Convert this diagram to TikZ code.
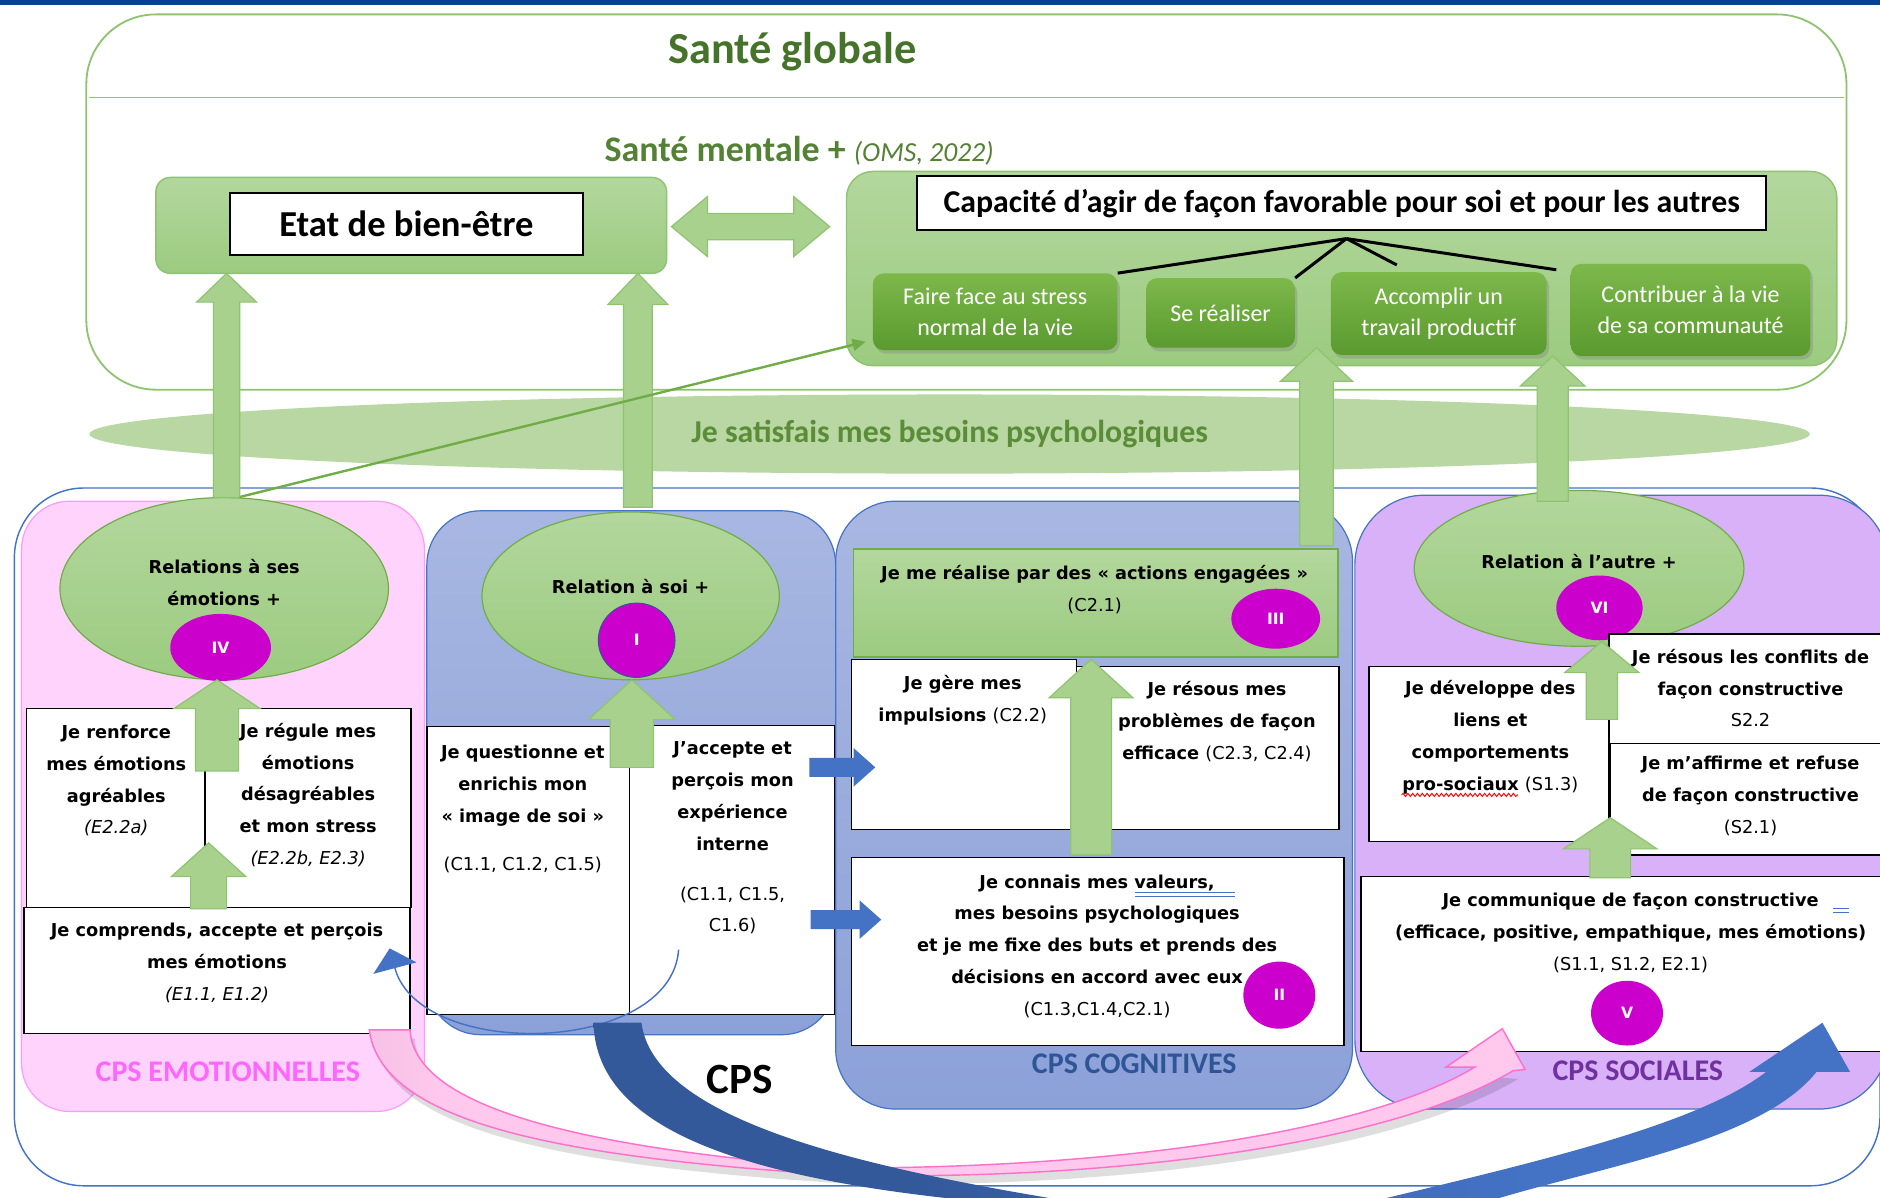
\documentclass[tikz,border=0pt]{standalone}
\usepackage{fontspec}
\setmainfont{DejaVu Sans}
\newfontfamily\carl{Carlito}
\usetikzlibrary{shapes.geometric,arrows.meta,shadows,decorations.pathmorphing}
\definecolor{topblue}{HTML}{0B3F8F}
\definecolor{sgline}{HTML}{8EC36F}
\definecolor{lgreen}{HTML}{A9D18E}
\definecolor{lgreenT}{HTML}{B3D79D}
\definecolor{lgreenB}{HTML}{9CCB80}
\definecolor{ogreen}{HTML}{70AD47}
\definecolor{dgreenT}{HTML}{7DB84B}
\definecolor{dgreenB}{HTML}{5A9A2E}
\definecolor{titlegreen}{HTML}{46732A}
\definecolor{midgreen}{HTML}{548235}
\definecolor{besoin}{HTML}{B8D7A3}
\definecolor{besointext}{HTML}{5B8C37}
\definecolor{magen}{HTML}{CC00CC}
\definecolor{cpsblue}{HTML}{4472C4}
\definecolor{darkblue}{HTML}{2F5597}
\definecolor{bluT}{HTML}{A8B7E2}
\definecolor{bluB}{HTML}{8CA1D8}
\definecolor{pinkfill}{HTML}{FFD3FC}
\definecolor{pinkline}{HTML}{FF99FF}
\definecolor{pinklabel}{HTML}{FF66FF}
\definecolor{purp}{HTML}{D8B1F9}
\definecolor{purplabel}{HTML}{7030A0}
\definecolor{mauve}{HTML}{C9A0C0}
\definecolor{pinkb}{HTML}{FFC8EC}
\definecolor{pinkedge}{HTML}{FF6FCC}
\definecolor{bandblueA}{HTML}{34599B}
\definecolor{bandblueB}{HTML}{4472C4}
\pgfdeclarehorizontalshading{pinkband}{100bp}{color(0bp)=(mauve); color(10bp)=(mauve); color(28bp)=(pinkb); color(100bp)=(pinkb)}
\pgfdeclarehorizontalshading{blueband}{100bp}{color(0bp)=(bandblueA); color(38bp)=(bandblueA); color(62bp)=(bandblueB); color(100bp)=(bandblueB)}
\newcommand{\uparr}[7][]{\filldraw[#1] (#2,#3) -- ({#2+#6},{#3+#7}) -- ({#2+#5},{#3+#7}) -- ({#2+#5},#4) -- ({#2-#5},#4) -- ({#2-#5},{#3+#7}) -- ({#2-#6},{#3+#7}) -- cycle;}
\newcommand{\rtarr}[7][]{\filldraw[#1] (#3,#4) -- ({#3-#7},{#4-#6}) -- ({#3-#7},{#4-#5}) -- (#2,{#4-#5}) -- (#2,{#4+#5}) -- ({#3-#7},{#4+#5}) -- ({#3-#7},{#4+#6}) -- cycle;}
\begin{document}
\begin{tikzpicture}[x=1pt,y=-1pt,
  body/.style={font=\fontsize{14.8}{26.5}\selectfont\bfseries, align=center, inner sep=0pt},
  wbox/.style={draw=black, line width=1.3pt, fill=white, inner sep=0pt},
  magc/.style={ellipse, fill=magen, text=white, font=\fontsize{13}{13}\selectfont\bfseries, inner sep=0pt},
  gell/.style={ellipse, draw=ogreen, line width=1pt, top color=lgreenT, bottom color=lgreenB, inner sep=0pt},
  garr/.style={fill=lgreen, draw=sgline, line width=1pt},
  barr/.style={fill=cpsblue, draw=none},
  gbox/.style={rounded corners=9pt, top color=dgreenT, bottom color=dgreenB, draw=none, text=white, font=\carl\fontsize{20}{26}\selectfont, align=center, inner sep=0pt, drop shadow={opacity=0.35, shadow xshift=2pt, shadow yshift=-3pt}},
  lgbox/.style={draw=sgline, line width=1.2pt, top color=lgreenT, bottom color=lgreenB, inner sep=0pt},
  titlebox/.style={draw=black, line width=1.5pt, fill=white, inner sep=0pt},
  panelblue/.style={draw=cpsblue, line width=1pt, top color=bluT, bottom color=bluB, inner sep=0pt},
  cpslabel/.style={font=\carl\bfseries\fontsize{25}{25}\selectfont, inner sep=0pt},
]
\useasboundingbox (0,0) rectangle (1568,999);
\clip (0,0) rectangle (1568,999);
\fill[white] (0,0) rectangle (1568,999);
\fill[topblue] (0,0) rectangle (1568,4.5);

% ---------- Santé globale ----------
\draw[sgline, line width=1.5pt, rounded corners=58pt] (72,12) rectangle (1540,325);
\coordinate (hl1) at (74,81);
\coordinate (hl2) at (1538,81);
\draw[sgline, line width=1pt] (hl1) -- (hl2);
\node[font=\carl\bfseries\fontsize{37}{37}\selectfont, text=titlegreen] (sg) at (661,43) {Santé globale};
\node[anchor=base west, text=midgreen, inner sep=0pt] (sm) at (504,135) {\carl\bfseries\fontsize{30}{30}\selectfont Santé mentale + {\mdseries\itshape\fontsize{23}{23}\selectfont (OMS, 2022)}};

% Etat de bien-être
\node[lgbox, rounded corners=12pt, minimum width=426pt, minimum height=80pt] (etat) at (343,188) {};
\node[titlebox, minimum width=294pt, minimum height=52pt, font=\carl\bfseries\fontsize{30.5}{30.5}\selectfont] (etatt) at (339,187) {Etat de bien-être};

% double arrow
\filldraw[garr] (560,189) -- (590,164) -- (590,178) -- (662,178) -- (662,164) -- (692,189) -- (662,214) -- (662,200) -- (590,200) -- (590,214) -- cycle;

% Capacité
\node[lgbox, rounded corners=22pt, minimum width=826pt, minimum height=162pt] (cap) at (1119,224) {};
\node[titlebox, minimum width=708pt, minimum height=45pt, font=\carl\bfseries\fontsize{26.5}{26.5}\selectfont] (capt) at (1119,169.5) {Capacité d’agir de façon favorable pour soi et pour les autres};

\node[gbox, minimum width=204pt, minimum height=64pt] (g1) at (830,260) {Faire face au stress\\normal de la vie};
\node[gbox, minimum width=124pt, minimum height=58pt] (g2) at (1018,261) {Se réaliser};
\node[gbox, minimum width=180pt, minimum height=69pt] (g3) at (1200,261.5) {Accomplir un\\travail productif};
\node[gbox, minimum width=200pt, minimum height=77pt] (g4) at (1410,258.5) {Contribuer à la vie\\de sa communauté};

\coordinate (apex) at (1123,199);
\coordinate (lnend) at (1165,221);
\coordinate (lnend4) at (1298,225);
\draw[black, line width=2.5pt] (apex) -- (g1.north east);
\draw[black, line width=2.5pt] (apex) -- (g2.north east);
\draw[black, line width=2.5pt] (apex) -- (lnend);
\draw[black, line width=2.5pt] (apex) -- (lnend4);

% ---------- besoins ----------
\node[ellipse, fill=besoin, minimum width=1435pt, minimum height=66pt, inner sep=0pt] (bes) at (792,362) {};
\node[font=\carl\bfseries\fontsize{26.5}{26.5}\selectfont, text=besointext] (best) at (792,362) {Je satisfais mes besoins psychologiques};

% ---------- CPS frame ----------
\draw[cpsblue, line width=1.2pt, rounded corners=58pt] (12,407) rectangle (1568,989);

% panels
\node[draw=pinkline, fill=pinkfill, line width=1pt, rounded corners=40pt, minimum width=336pt, minimum height=509pt, inner sep=0pt] (pemo) at (186,672.5) {};
\node[panelblue, rounded corners=45pt, minimum width=341pt, minimum height=437pt] (psoi) at (526.5,644.5) {};
\node[panelblue, rounded corners=50pt, minimum width=431pt, minimum height=507pt] (pcog) at (912.5,671.5) {};
\node[draw=cpsblue, line width=1pt, fill=purp, rounded corners=58pt, minimum width=445pt, minimum height=512pt, inner sep=0pt] (psoc) at (1352.5,669) {};

% ---------- Emotionnelles ----------
\node[gell, minimum width=274pt, minimum height=152pt] (e4) at (187,491) {};
\node[body] (t4) at (187,486) {Relations à ses\\émotions +};
\node[magc, minimum width=84pt, minimum height=56pt] (m4) at (184,540) {IV};
\node[wbox, minimum width=321pt, minimum height=166pt] (ptop) at (182.5,674) {};
\coordinate (pd1) at (171,591);
\coordinate (pd2) at (171,757);
\draw[black, line width=1pt] (pd1) -- (pd2);
\node[wbox, minimum width=322pt, minimum height=105pt] (pbot) at (181,809.5) {};
\node[body] (tl1) at (97,651) {Je renforce\\mes émotions\\agréables\\\mdseries\itshape (E2.2a)};
\node[body] (tr1) at (257,663) {Je régule mes\\émotions\\désagréables\\et mon stress\\\mdseries\itshape (E2.2b, E2.3)};
\node[body] (tb1) at (181,803) {Je comprends, accepte et perçois\\mes émotions\\\mdseries\itshape (E1.1, E1.2)};
\uparr[garr]{181}{567}{643}{18}{36}{24}
\uparr[garr]{174}{703}{758}{15}{31}{28}
\node[cpslabel, text=pinklabel] (lemo) at (190,894) {CPS EMOTIONNELLES};

% ---------- Relation a soi ----------
\node[gell, minimum width=248pt, minimum height=140pt] (e1) at (526,497) {};
\node[body] (t1) at (526,489) {Relation à soi +};
\node[magc, draw=darkblue, line width=0.8pt, minimum width=64pt, minimum height=62pt] (m1) at (531,534) {I};
\node[wbox, minimum width=169pt, minimum height=240pt] (bl) at (440.5,726) {};
\node[wbox, minimum width=171pt, minimum height=241pt] (br) at (610.5,725.5) {};
\node[body] (tbl) at (436,675) {Je questionne et\\enrichis mon\\« image de soi »\\[14pt]\mdseries (C1.1, C1.2, C1.5)};
\node[body] (tbr) at (611,699) {J’accepte et\\perçois mon\\expérience\\interne\\[15pt]\mdseries (C1.1, C1.5,\\\mdseries C1.6)};
\uparr[garr]{527}{567}{640}{18}{36}{33}

% ---------- Cognitives ----------
\node[lgbox, draw=ogreen, minimum width=404pt, minimum height=90pt] (act) at (914,503) {};
\node[body] (tact) at (913,492) {Je me réalise par des « actions engagées »\\\mdseries (C2.1)};
\node[magc, minimum width=74pt, minimum height=50pt] (m3) at (1064,516) {III};
\node[wbox, minimum width=188pt, minimum height=142pt] (cl) at (804,621) {};
\node[wbox, minimum width=219pt, minimum height=136pt] (cr) at (1007.5,624) {};
\node[wbox, minimum width=411pt, minimum height=157pt] (cb) at (915.5,793.5) {};
\node[body] (tcl) at (803,584) {Je gère mes\\impulsions {\mdseries (C2.2)}};
\node[body] (tcr) at (1015,602) {Je résous mes\\problèmes de façon\\efficace {\mdseries (C2.3, C2.4)}};
\node[body] (tcb) at (915,789) {Je connais mes valeurs,\\mes besoins psychologiques\\et je me fixe des buts et prends des\\décisions en accord avec eux\\\mdseries (C1.3,C1.4,C2.1)};
\coordinate (u1a) at (947,744.5);
\coordinate (u1b) at (1030,744.5);
\coordinate (u2a) at (947,747.5);
\coordinate (u2b) at (1030,747.5);
\draw[cpsblue, line width=0.9pt] (u1a) -- (u1b);
\draw[cpsblue, line width=0.9pt] (u2a) -- (u2b);
\node[magc, minimum width=60pt, minimum height=56pt] (m2) at (1067,830) {II};
\uparr[garr]{910}{550}{713}{17}{35}{32}
\node[cpslabel, text=darkblue] (lcog) at (946,887) {CPS COGNITIVES};

% blue right arrows
\rtarr[barr]{675}{730}{640}{8}{16}{18}
\rtarr[barr]{676}{735}{767}{8}{16}{18}

% ---------- Sociales ----------
\node[gell, minimum width=275pt, minimum height=130pt] (e6) at (1317,474) {};
\node[body] (t6) at (1317,468) {Relation à l’autre +};
\node[magc, minimum width=72pt, minimum height=54pt] (m6) at (1334,507) {VI};
\node[wbox, minimum width=200pt, minimum height=146pt] (sl) at (1242,629) {};
\node[wbox, minimum width=236pt, minimum height=91pt] (srt) at (1460,574.5) {};
\node[wbox, minimum width=235pt, minimum height=93pt] (srb) at (1460.5,666.5) {};
\node[wbox, minimum width=443pt, minimum height=146pt] (sb) at (1356.5,804) {};
\node[body] (tsl) at (1243,615) {Je développe des\\liens et\\comportements\\pro-sociaux {\mdseries (S1.3)}};
\coordinate (wv1) at (1169,663);
\coordinate (wv2) at (1266,663);
\draw[red, line width=0.8pt, decorate, decoration={snake, amplitude=1.3pt, segment length=4pt}] (wv1) -- (wv2);
\node[body] (tsrt) at (1460,574) {Je résous les conflits de\\façon constructive\\\mdseries S2.2};
\node[body] (tsrb) at (1460,664) {Je m’affirme et refuse\\de façon constructive\\\mdseries (S2.1)};
\node[body] (tsb) at (1360,778) {Je communique de façon constructive\\(efficace, positive, empathique, mes émotions)\\\mdseries (S1.1, S1.2, E2.1)};
\coordinate (eq1a) at (1529,758);
\coordinate (eq1b) at (1542,758);
\coordinate (eq2a) at (1529,761);
\coordinate (eq2b) at (1542,761);
\draw[cpsblue, line width=0.9pt] (eq1a) -- (eq1b);
\draw[cpsblue, line width=0.9pt] (eq2a) -- (eq2b);
\node[magc, minimum width=60pt, minimum height=54pt] (m5) at (1357,845) {V};
\uparr[garr]{1336}{535}{600}{13}{31}{26}
\uparr[garr]{1343}{682}{732}{17}{39}{26}
\node[cpslabel, text=purplabel] (lsoc) at (1366,893) {CPS SOCIALES};

% ---------- big vertical green arrows ----------
\uparr[garr]{189}{228}{415}{11}{25}{24}
\uparr[garr]{532}{228}{423}{12}{25}{26}
\uparr[garr]{1098}{290}{455}{14}{30}{28}
\uparr[garr]{1295}{297}{418}{13}{27}{25}

% thin green arrow
\coordinate (gtip) at (722,285);
\draw[ogreen, line width=2pt, -{Triangle[length=11pt,width=10pt]}] ([xshift=13pt]e4.north) -- (gtip);

% thin blue curved arrow
\coordinate (cs) at (566,792);
\coordinate (ce) at (325,791);
\draw[cpsblue, line width=1.2pt, -{Triangle[length=17pt,width=37pt]}] (cs) .. controls (560,880) and (350,885) .. (ce);

% ---------- pink band (with soft shadow) ----------
\fill[black, opacity=0.13] (312,866) .. controls (322,942) and (464,972) .. (704,987) .. controls (904,992) and (1154,967) .. (1266,900) -- (1234,897) .. controls (1134,957) and (904,982) .. (704,981) .. controls (454,962) and (349,922) .. (346,866) -- cycle;
\coordinate (pk0) at (308,859);
\coordinate (pktip) at (1253,858);
\shadedraw[shading=pinkband, draw=pinkedge, line width=1.2pt] (pk0) .. controls (318,935) and (460,965) .. (700,980) .. controls (900,985) and (1150,960) .. (1262,893) -- (1272,892) -- (pktip) -- (1206,890) -- (1230,890) .. controls (1130,950) and (900,975) .. (700,974) .. controls (450,955) and (345,915) .. (342,859) -- cycle;

% ---------- blue band ----------
\coordinate (bb0) at (495,853);
\coordinate (bbtip) at (1520,853);
\shade[shading=blueband] (bb0) .. controls (497,935) and (600,985) .. (850,1005) .. controls (950,1015) and (1000,1045) .. (1050,1045) .. controls (1150,1045) and (1200,1015) .. (1251,999) .. controls (1350,970) and (1470,950) .. (1515,894) -- (1543,894) -- (bbtip) -- (1459,894) -- (1473,894) .. controls (1420,935) and (1300,965) .. (1157,999) .. controls (1080,1030) and (950,1035) .. (880,1000) .. controls (700,970) and (545,930) .. (535,853) -- cycle;

\node[font=\carl\bfseries\fontsize{36}{36}\selectfont, inner sep=0pt] (cps) at (617,900) {CPS};
\end{tikzpicture}
\end{document}
